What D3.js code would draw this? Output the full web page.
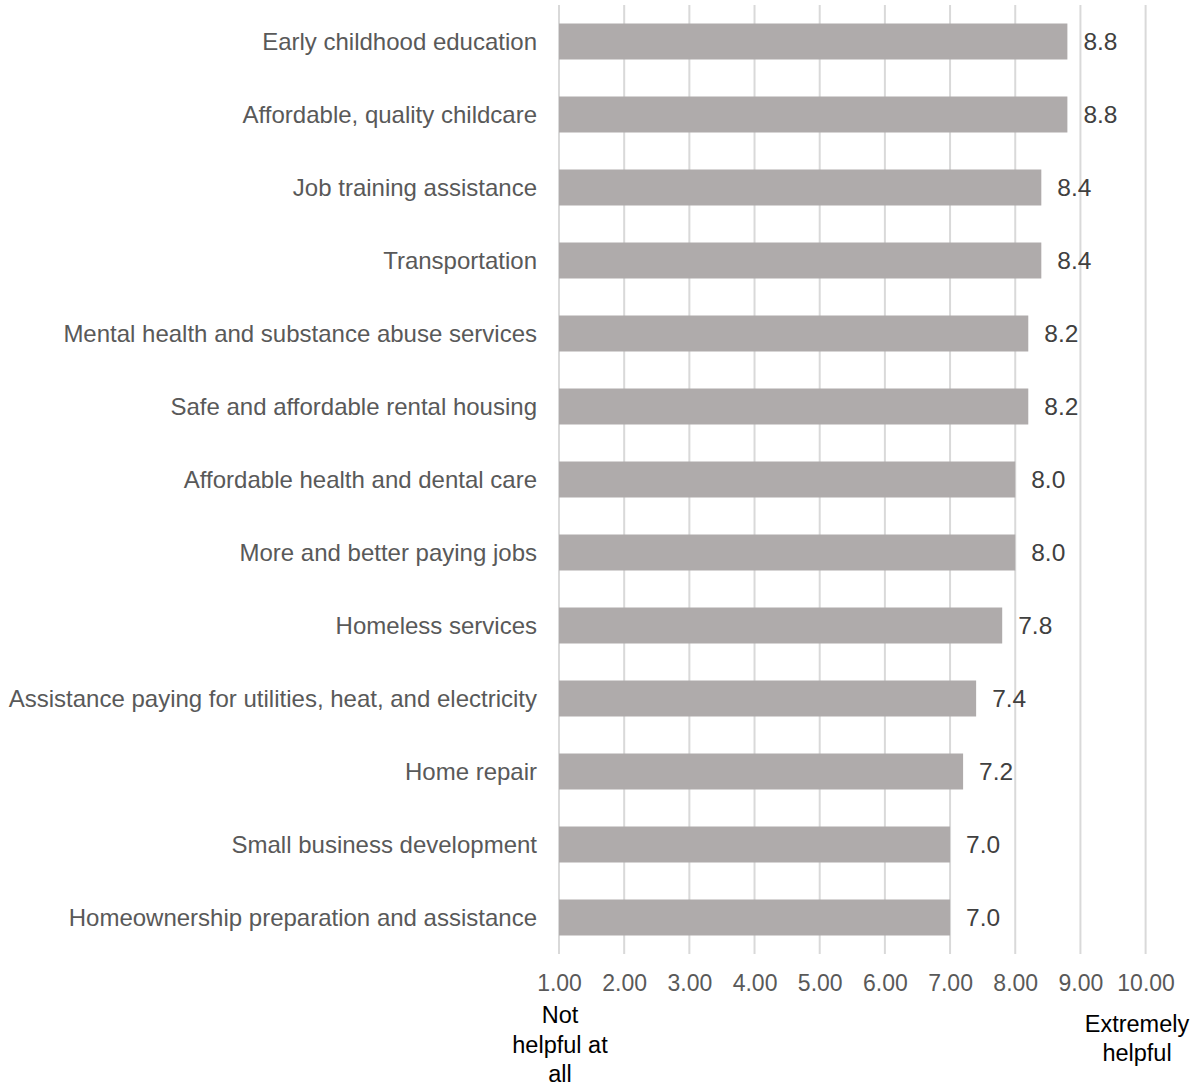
<!DOCTYPE html>
<html><head><meta charset="utf-8">
<script src="https://cdn.jsdelivr.net/npm/d3@7"></script>
<style>html,body{margin:0;padding:0;background:#fff;}svg{display:block;font-family:"Liberation Sans",Arial,sans-serif;}</style>
</head><body>
<svg id="chart" width="1199" height="1086"></svg>
<script>
const categories = [
  "Early childhood education",
  "Affordable, quality childcare",
  "Job training assistance",
  "Transportation",
  "Mental health and substance abuse services",
  "Safe and affordable rental housing",
  "Affordable health and dental care",
  "More and better paying jobs",
  "Homeless services",
  "Assistance paying for utilities, heat, and electricity",
  "Home repair",
  "Small business development",
  "Homeownership preparation and assistance"
];
const values = [8.8, 8.8, 8.4, 8.4, 8.2, 8.2, 8.0, 8.0, 7.8, 7.4, 7.2, 7.0, 7.0];
const ticks = [1, 2, 3, 4, 5, 6, 7, 8, 9, 10];
const leftNote = ["Not", "helpful at", "all"];
const rightNote = ["Extremely", "helpful"];

const svg = d3.select("#chart");
const x = d3.scaleLinear().domain([1, 10]).range([559, 1145.6]);
const y = d3.scaleBand().domain(categories).range([5, 954]).paddingInner(0.507).paddingOuter(0.2535);

// gridlines
svg.append("g").selectAll("line").data(ticks).join("line")
  .attr("x1", d => x(d)).attr("x2", d => x(d))
  .attr("y1", 5).attr("y2", 954)
  .attr("stroke", "#D9D9D9").attr("stroke-width", 2);

// bars
svg.append("g").selectAll("rect").data(values).join("rect")
  .attr("x", x(1))
  .attr("y", (d, i) => y(categories[i]))
  .attr("width", d => x(d) - x(1))
  .attr("height", y.bandwidth())
  .attr("fill", "#AFABAB");

// value labels
svg.append("g").selectAll("text").data(values).join("text")
  .attr("x", d => x(d) + 16)
  .attr("y", (d, i) => y(categories[i]) + y.bandwidth() / 2)
  .attr("dy", "0.35em")
  .attr("font-size", 24.5)
  .attr("fill", "#404040")
  .text(d => d.toFixed(1));

// category labels
svg.append("g").selectAll("text").data(categories).join("text")
  .attr("x", 537)
  .attr("y", d => y(d) + y.bandwidth() / 2)
  .attr("dy", "0.35em")
  .attr("text-anchor", "end")
  .attr("font-size", 24)
  .attr("fill", "#595959")
  .text(d => d);

// x axis tick labels
const xAxis = d3.axisBottom(x).tickValues(ticks).tickFormat(d3.format(".2f")).tickSize(0).tickPadding(0);
const gx = svg.append("g").attr("transform", "translate(0,991)").call(xAxis);
gx.select(".domain").remove();
gx.selectAll("text").attr("font-size", 23).attr("fill", "#595959")
  .attr("font-family", "Liberation Sans, Arial, sans-serif").attr("dy", null).attr("y", 0);

// notes
svg.append("text").attr("text-anchor", "middle").attr("font-size", 23.5).attr("fill", "#000")
  .selectAll("tspan").data(leftNote).join("tspan")
  .attr("x", 560).attr("y", (d, i) => 1023 + i * 29.5).text(d => d);
svg.append("text").attr("text-anchor", "middle").attr("font-size", 23.5).attr("fill", "#000")
  .selectAll("tspan").data(rightNote).join("tspan")
  .attr("x", 1137).attr("y", (d, i) => 1032 + i * 28.5).text(d => d);
</script>
</body></html>
